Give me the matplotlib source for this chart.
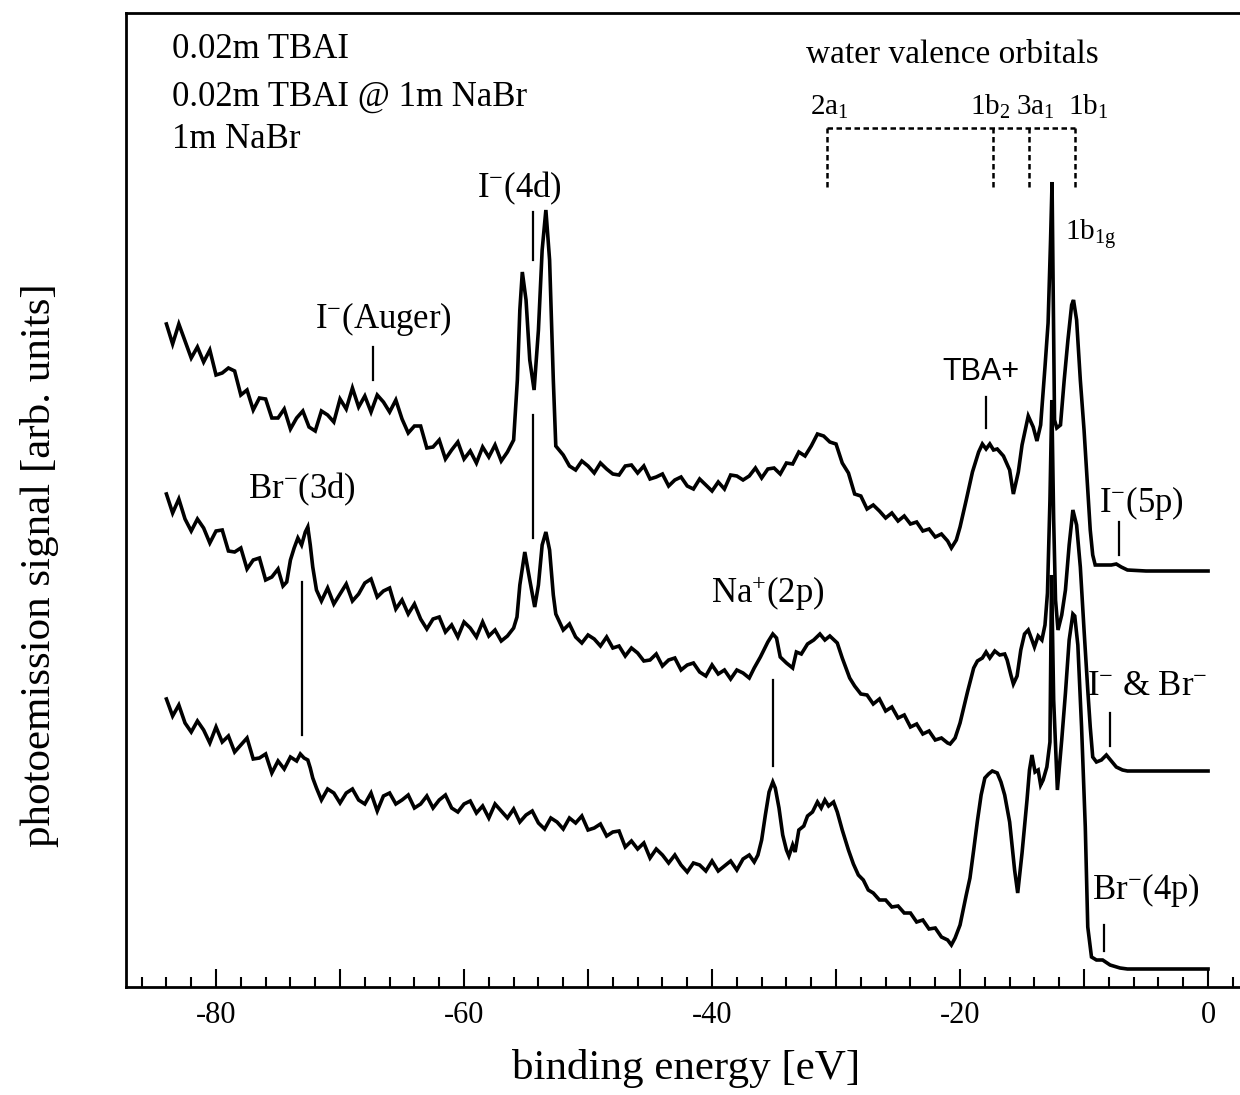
import matplotlib
matplotlib.use("Agg")
import matplotlib.pyplot as plt
from matplotlib.ticker import MultipleLocator, FuncFormatter

plt.rcParams['font.family'] = ['Liberation Serif', 'DejaVu Serif']
plt.rcParams['mathtext.fontset'] = 'custom'
plt.rcParams['mathtext.rm'] = 'Liberation Serif'
plt.rcParams['mathtext.it'] = 'Liberation Serif:italic'
plt.rcParams['axes.unicode_minus'] = False

# spectra: binding energy [eV] and signal [arb. units]
# 0.02m TBAI
e_tbai = [-84.0, -83.5, -83.0, -82.5, -82.0, -81.5, -81.0, -80.5, -80.0, -79.5,
          -79.0, -78.5, -78.0, -77.5, -77.0, -76.5, -76.0, -75.5, -75.0, -74.5,
          -74.0, -73.5, -73.0, -72.5, -72.0, -71.5, -71.0, -70.5, -70.0, -69.5,
          -69.0, -68.5, -68.0, -67.5, -67.0, -66.5, -66.0, -65.5, -65.0, -64.5,
          -64.0, -63.5, -63.0, -62.5, -62.0, -61.5, -61.0, -60.5, -60.0, -59.5,
          -59.0, -58.5, -58.0, -57.5, -57.0, -56.5, -56.0, -55.7, -55.5, -55.3,
          -55.0, -54.7, -54.35, -54.0, -53.7, -53.4, -53.1, -52.8, -52.6, -52.0,
          -51.5, -51.0, -50.5, -50.0, -49.5, -49.0, -48.5, -48.0, -47.5, -47.0,
          -46.5, -46.0, -45.5, -45.0, -44.5, -44.0, -43.5, -43.0, -42.5, -42.0,
          -41.5, -41.0, -40.5, -40.0, -39.5, -39.0, -38.5, -38.0, -37.5, -37.0,
          -36.5, -36.0, -35.5, -35.0, -34.5, -34.0, -33.5, -33.0, -32.5, -32.0,
          -31.5, -31.0, -30.5, -30.0, -29.5, -29.0, -28.5, -28.0, -27.5, -27.0,
          -26.5, -26.0, -25.5, -25.0, -24.5, -24.0, -23.5, -23.0, -22.5, -22.0,
          -21.5, -21.0, -20.7, -20.3, -20.0, -19.5, -19.0, -18.5, -18.2, -17.9,
          -17.6, -17.3, -17.0, -16.5, -16.0, -15.7, -15.3, -15.0, -14.5, -14.1,
          -13.8, -13.5, -13.15, -12.9, -12.7, -12.58, -12.48, -12.38, -12.2, -11.9,
          -11.6, -11.3, -11.0, -10.85, -10.6, -10.3, -10.0, -9.8, -9.5, -9.3,
          -9.1, -8.5, -7.8, -7.4, -7.0, -6.5, -5.0, 0.0]
s_tbai = [676, 656, 676, 659, 642, 653, 638, 650, 625, 627,
          632, 629, 605, 610, 590, 602, 601, 582, 582, 591,
          571, 582, 589, 573, 569, 589, 585, 578, 601, 591,
          612, 593, 604, 588, 605, 598, 588, 600, 581, 567,
          574, 574, 552, 553, 560, 541, 550, 558, 541, 549,
          537, 553, 543, 555, 539, 548, 560, 620, 690, 728,
          700, 640, 610, 670, 750, 790, 740, 620, 554, 545,
          534, 530, 539, 534, 527, 537, 531, 526, 525, 534,
          535, 527, 534, 521, 523, 526, 514, 520, 523, 514,
          511, 521, 515, 509, 518, 511, 525, 524, 520, 524,
          532, 522, 531, 532, 526, 537, 536, 548, 544, 554,
          566, 564, 558, 556, 537, 527, 506, 504, 491, 495,
          489, 482, 487, 479, 484, 476, 478, 469, 471, 463,
          466, 459, 452, 460, 473, 500, 528, 548, 556, 551,
          556, 550, 551, 544, 530, 506, 528, 555, 584, 573,
          559, 575, 633, 677, 760, 818, 700, 580, 572, 575,
          620, 660, 695, 700, 680, 620, 570, 530, 470, 445,
          435, 435, 435, 436, 433, 430, 429, 429]

# 0.02m TBAI @ 1m NaBr
e_mix = [-84.0, -83.5, -83.0, -82.5, -82.0, -81.5, -81.0, -80.5, -80.0, -79.5,
         -79.0, -78.5, -78.0, -77.5, -77.0, -76.5, -76.0, -75.5, -75.0, -74.6,
         -74.3, -74.0, -73.7, -73.4, -73.1, -72.8, -72.6, -72.4, -72.2, -71.9,
         -71.5, -71.0, -70.5, -70.0, -69.5, -69.0, -68.5, -68.0, -67.5, -67.0,
         -66.5, -66.0, -65.5, -65.0, -64.5, -64.0, -63.5, -63.0, -62.5, -62.0,
         -61.5, -61.0, -60.5, -60.0, -59.5, -59.0, -58.5, -58.0, -57.5, -57.0,
         -56.5, -56.0, -55.73, -55.5, -55.1, -54.7, -54.3, -54.0, -53.7, -53.4,
         -53.1, -52.8, -52.6, -52.0, -51.5, -51.0, -50.5, -50.0, -49.5, -49.0,
         -48.5, -48.0, -47.5, -47.0, -46.5, -46.0, -45.5, -45.0, -44.5, -44.0,
         -43.5, -43.0, -42.5, -42.0, -41.5, -41.0, -40.5, -40.0, -39.5, -39.0,
         -38.5, -38.0, -37.5, -37.0, -36.6, -36.1, -35.5, -35.1, -34.8, -34.5,
         -34.0, -33.5, -33.2, -32.8, -32.3, -31.8, -31.3, -30.9, -30.5, -29.9,
         -29.5, -29.2, -28.9, -28.5, -28.0, -27.5, -27.0, -26.5, -26.0, -25.5,
         -25.0, -24.5, -24.0, -23.5, -23.0, -22.5, -22.0, -21.5, -21.0, -20.8,
         -20.4, -20.0, -19.4, -18.9, -18.6, -18.2, -17.9, -17.6, -17.2, -16.8,
         -16.4, -16.2, -15.9, -15.7, -15.4, -15.1, -14.8, -14.5, -14.2, -14.0,
         -13.7, -13.4, -13.15, -12.95, -12.75, -12.6, -12.45, -12.3, -12.1, -11.8,
         -11.5, -11.2, -10.9, -10.6, -10.3, -10.0, -9.7, -9.5, -9.3, -9.0,
         -8.6, -8.2, -7.8, -7.4, -6.9, -6.5, 0.0]
s_mix = [506, 487, 501, 481, 469, 481, 472, 457, 469, 470,
         449, 448, 452, 431, 440, 442, 420, 423, 431, 414,
         418, 440, 452, 462, 455, 468, 473, 455, 433, 410,
         399, 412, 396, 406, 416, 399, 406, 417, 421, 403,
         409, 412, 391, 400, 386, 396, 381, 371, 381, 383,
         368, 375, 363, 378, 372, 363, 378, 364, 370, 359,
         364, 372, 383, 415, 448, 420, 393, 415, 455, 468,
         450, 405, 386, 370, 376, 363, 357, 365, 361, 354,
         363, 352, 354, 344, 352, 347, 339, 340, 346, 334,
         340, 342, 330, 335, 337, 328, 324, 335, 326, 330,
         321, 330, 327, 322, 332, 343, 358, 366, 362, 343,
         337, 332, 348, 346, 356, 360, 366, 360, 364, 357,
         342, 332, 322, 314, 306, 305, 296, 301, 289, 293,
         282, 285, 273, 276, 266, 269, 260, 262, 257, 256,
         262, 277, 308, 332, 339, 342, 348, 342, 349, 345,
         346, 340, 325, 316, 324, 350, 366, 370, 360, 353,
         364, 360, 375, 407, 500, 600, 480, 400, 370, 385,
         410, 455, 490, 475, 433, 370, 310, 273, 243, 238,
         240, 245, 239, 233, 230, 229, 229]

# 1m NaBr
e_nabr = [-84.0, -83.5, -83.0, -82.5, -82.0, -81.5, -81.0, -80.5, -80.0, -79.5,
          -79.0, -78.5, -78.0, -77.5, -77.0, -76.5, -76.0, -75.5, -75.0, -74.5,
          -74.0, -73.5, -73.2, -72.9, -72.6, -72.4, -72.2, -71.9, -71.5, -71.0,
          -70.5, -70.0, -69.5, -69.0, -68.5, -68.0, -67.5, -67.0, -66.5, -66.0,
          -65.5, -65.0, -64.5, -64.0, -63.5, -63.0, -62.5, -62.0, -61.5, -61.0,
          -60.5, -60.0, -59.5, -59.0, -58.5, -58.0, -57.5, -57.0, -56.5, -56.0,
          -55.5, -55.0, -54.5, -54.0, -53.5, -53.0, -52.5, -52.0, -51.5, -51.0,
          -50.5, -50.0, -49.5, -49.0, -48.5, -48.0, -47.5, -47.0, -46.5, -46.0,
          -45.5, -45.0, -44.5, -44.0, -43.5, -43.0, -42.5, -42.0, -41.5, -41.0,
          -40.5, -40.0, -39.5, -39.0, -38.5, -38.0, -37.5, -37.0, -36.6, -36.3,
          -36.0, -35.7, -35.4, -35.1, -34.9, -34.6, -34.3, -34.0, -33.8, -33.5,
          -33.3, -33.0, -32.6, -32.3, -31.9, -31.5, -31.2, -30.9, -30.6, -30.2,
          -29.9, -29.5, -29.0, -28.6, -28.2, -27.8, -27.4, -27.0, -26.5, -26.0,
          -25.5, -25.0, -24.5, -24.0, -23.5, -23.0, -22.5, -22.0, -21.5, -21.0,
          -20.7, -20.4, -20.0, -19.5, -19.2, -18.9, -18.6, -18.3, -18.0, -17.7,
          -17.4, -17.0, -16.7, -16.4, -16.0, -15.6, -15.35, -15.0, -14.6, -14.4,
          -14.2, -13.95, -13.7, -13.5, -13.3, -13.0, -12.75, -12.62, -12.45, -12.15,
          -11.8, -11.5, -11.2, -10.9, -10.75, -10.5, -10.2, -9.9, -9.7, -9.4,
          -9.0, -8.5, -7.9, -7.1, -6.5, 0.0]
s_nabr = [301, 284, 295, 277, 268, 279, 270, 257, 273, 258,
          264, 248, 255, 262, 241, 242, 246, 227, 239, 231,
          243, 239, 246, 242, 240, 232, 222, 212, 200, 211,
          207, 197, 207, 211, 200, 196, 207, 189, 204, 207,
          196, 200, 205, 192, 196, 204, 192, 200, 205, 192,
          188, 196, 199, 187, 194, 182, 196, 189, 182, 191,
          178, 185, 189, 177, 171, 182, 178, 171, 182, 177,
          184, 170, 172, 176, 164, 168, 169, 153, 159, 151,
          157, 142, 151, 145, 137, 145, 135, 128, 137, 135,
          129, 139, 129, 134, 139, 130, 141, 145, 138, 145,
          160, 185, 208, 218, 212, 192, 165, 150, 144, 155,
          148, 170, 174, 184, 188, 198, 192, 200, 194, 198,
          188, 170, 150, 136, 125, 120, 110, 107, 100, 100,
          93, 94, 87, 87, 78, 80, 71, 72, 63, 60,
          55, 62, 75, 105, 122, 150, 179, 205, 222, 226,
          229, 227, 218, 205, 178, 130, 107, 147, 200, 230,
          245, 228, 230, 215, 220, 233, 258, 425, 300, 210,
          260, 307, 360, 386, 384, 355, 273, 173, 73, 43,
          40, 40, 35, 32, 31, 31]

# peak marker lines: energy, signal from, signal to
marker_e = [-67.34, -54.44, -54.44, -73.06, -35.08, -17.9, -7.18, -7.9, -8.39]
marker_lo = [620, 740, 462, 265, 234, 572, 445, 254, 49]
marker_hi = [653, 788, 585, 418, 320, 603, 478, 287, 75]

# water valence orbitals (dotted bracket)
orbital_e = [-30.73, -17.34, -14.44, -10.73]
orbital_names = [r'2a$_\mathrm{1}$', r'1b$_\mathrm{2}$', r'3a$_\mathrm{1}$', r'1b$_\mathrm{1}$']
orbital_label_e = [-30.5, -17.6, -13.9, -9.7]

fig = plt.figure(figsize=(12.4, 10.95), dpi=100)
ax = fig.add_axes([126 / 1240, 108 / 1095, 1119 / 1240, 974 / 1095])

for e, s in [(e_tbai, s_tbai), (e_mix, s_mix), (e_nabr, s_nabr)]:
    ax.plot(e, s, color='black', lw=2.6, solid_joinstyle='miter')

for e, lo, hi in zip(marker_e, marker_lo, marker_hi):
    ax.plot([e, e], [lo, hi], color='black', lw=1.6)

# bracket for water orbitals
ax.plot([orbital_e[0], orbital_e[-1]], [872, 872], color='black', lw=1.8,
        linestyle=(0, (2.2, 1.4)))
for e in orbital_e:
    ax.plot([e, e], [813, 872], color='black', lw=1.8, linestyle=(0, (2.2, 1.4)))
for e, name in zip(orbital_label_e, orbital_names):
    ax.text(e, 885, name, fontsize=21, ha='center', va='baseline')
ax.text(-20.65, 945, 'water valence orbitals', fontsize=24, ha='center', va='center')
ax.text(-11.53, 760, r'1b$_\mathrm{1g}$', fontsize=21, ha='left', va='baseline')

# sample legend
ax.text(-83.55, 950, '0.02m TBAI', fontsize=25, ha='left', va='center')
ax.text(-83.55, 903, '0.02m TBAI @ 1m NaBr', fontsize=25, ha='left', va='center')
ax.text(-83.55, 861, '1m NaBr', fontsize=25, ha='left', va='center')

# peak labels
ax.text(-66.53, 672, r'I$^{-}$(Auger)', fontsize=25, ha='center', va='baseline')
ax.text(-55.56, 803, r'I$^{-}$(4d)', fontsize=25, ha='center', va='baseline')
ax.text(-73.06, 502, r'Br$^{-}$(3d)', fontsize=25, ha='center', va='baseline')
ax.text(-35.48, 397, r'Na$^{+}$(2p)', fontsize=25, ha='center', va='baseline')
ax.text(-18.31, 628, 'TBA+', fontsize=22, ha='center', va='center',
        family='Liberation Sans')
ax.text(-5.4, 488, r'I$^{-}$(5p)', fontsize=25, ha='center', va='baseline')
ax.text(-4.9, 305, r'I$^{-}$ & Br$^{-}$', fontsize=25, ha='center', va='baseline')
ax.text(-5.0, 101, r'Br$^{-}$(4p)', fontsize=25, ha='center', va='baseline')

ax.set_xlim(-87.26, 2.98)
ax.set_ylim(13, 987)
ax.set_yticks([])
ax.xaxis.set_major_locator(MultipleLocator(10))
ax.xaxis.set_minor_locator(MultipleLocator(2))
ax.xaxis.set_major_formatter(FuncFormatter(lambda v, p: '%d' % round(v) if round(v) % 20 == 0 else ''))
ax.tick_params(axis='x', which='major', direction='in', length=13, width=1.5,
               labelsize=22, pad=10)
ax.tick_params(axis='x', which='minor', direction='in', length=7, width=1.5)
for side in ['left', 'bottom', 'top']:
    ax.spines[side].set_linewidth(2.0)
ax.spines['right'].set_visible(False)

fig.text(686 / 1240, 1 - 1068 / 1095, 'binding energy [eV]', fontsize=31,
         ha='center', va='center')
fig.text(40 / 1240, 1 - 565 / 1095, 'photoemission signal [arb. units]', fontsize=31,
         ha='center', va='center', rotation=90)

fig.savefig('out.png', dpi=100)
